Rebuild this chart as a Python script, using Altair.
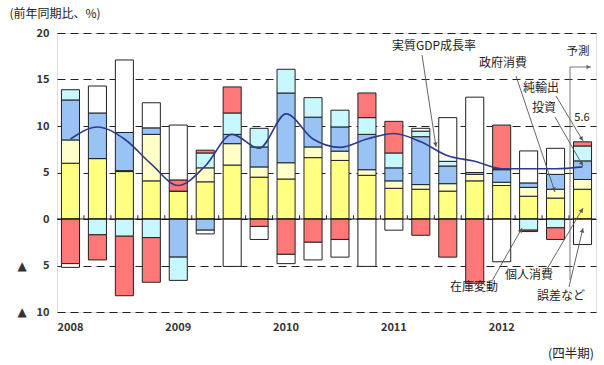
import math
import altair as alt
import pandas as pd

JP = "Noto Sans CJK JP"

quarters = ["2008 Q1", "2008 Q2", "2008 Q3", "2008 Q4",
            "2009 Q1", "2009 Q2", "2009 Q3", "2009 Q4",
            "2010 Q1", "2010 Q2", "2010 Q3", "2010 Q4",
            "2011 Q1", "2011 Q2", "2011 Q3", "2011 Q4",
            "2012 Q1", "2012 Q2", "2012 Q3", "2012 Q4"]

components = ["個人消費", "政府消費", "投資", "在庫変動", "純輸出", "誤差など"]
colors = ["#FFFF82", "#FFFFC8", "#99C2F5", "#C8F8FF", "#FF7878", "#FFFFFF"]

consumption = [6.0, 6.5, 5.1, 4.1, 3.0, 4.0, 5.8, 4.5, 4.3, 6.6,
               6.3, 4.7, 3.3, 3.2, 3.0, 4.1, 3.6, 2.45, 2.25, 3.2]
government = [2.5, 0.0, 0.1, 5.0, 0.0, 1.5, 2.3, 1.1, 1.75, 1.15,
              1.0, 0.6, 0.8, 0.5, 0.8, 0.7, 0.35, 0.95, 0.95, 1.05]
investment = [4.3, 4.9, 4.1, 0.7, -4.1, -1.2, 1.0, 2.15, 7.5, 3.2,
              2.6, 3.8, 1.4, 5.15, 1.9, 0.2, 1.35, 0.48, 1.6, 2.0]
inventory = [1.1, -1.7, -1.85, -2.0, -2.5, 1.6, 2.3, 2.0, 2.55, 2.1,
             1.8, 1.8, 1.6, 0.6, 0.5, 0.0, 0.1, -1.2, -0.95, 1.6]
net_exports = [-4.8, -2.7, -6.4, -4.8, 1.2, 0.3, 2.8, -0.8, -3.8, -2.5,
               -2.2, 2.65, 3.4, -1.75, -4.1, -6.9, 4.7, -0.15, -1.25, 0.45]
errors = [-0.4, 2.9, 7.8, 2.7, 5.9, -0.4, -5.1, -1.4, -1.0, -1.9,
          -1.9, -5.1, -1.2, 0.3, 4.7, 8.1, -4.6, 3.44, 2.8, -2.75]
gdp_growth = [8.6, 9.9, 8.6, 5.9, 3.6, 5.7, 9.1, 7.6, 11.3, 8.6,
              7.7, 8.6, 9.2, 8.3, 6.8, 6.2, 5.4, 5.4, 5.4, 5.6]

y_ticks = [-10, -5, 0, 5, 10, 15, 20]
neg_ticks = [-5, -10]

series = [consumption, government, investment, inventory, net_exports, errors]
rows = []
for ci, (name, vals) in enumerate(zip(components, series)):
    for q, v in zip(quarters, vals):
        rows.append({"q": q, "comp": name, "value": v, "ord": ci})
df = pd.DataFrame(rows)
gdf = pd.DataFrame({"q": quarters, "gdp": gdp_growth})

W, H = 539, 279
LEFT, TOP = 57, 33

xscale = alt.Scale(paddingInner=0.33, paddingOuter=0.165)
yscale = alt.Scale(domain=[-10, 20], nice=False)

bars = alt.Chart(df).mark_bar(stroke="#222", strokeWidth=1).encode(
    x=alt.X("q:N", sort=quarters, scale=xscale, title=None,
            axis=alt.Axis(labelExpr="substring(datum.label, 5) == 'Q1' ? substring(datum.label, 0, 4) : ''",
                          labelAngle=0, ticks=False, domain=False, labelPadding=9,
                          labelFont=JP, labelFontSize=11, labelFontWeight="bold",
                          labelColor="#333", labelFlush=False)),
    y=alt.Y("value:Q", stack="zero", scale=yscale, title=None,
            axis=alt.Axis(values=y_ticks, ticks=False, domain=False,
                          labelPadding=8, labelFont=JP, labelFontSize=11, labelFontWeight="bold",
                          labelColor="#333",
                          labelExpr="datum.value < 0 ? format(-datum.value, 'd') : datum.label",
                          grid=True, gridDash=[8, 5], gridColor="#222", gridWidth=1.1)),
    color=alt.Color("comp:N", scale=alt.Scale(domain=components, range=colors), legend=None),
    order=alt.Order("ord:Q"),
)

tri = alt.Chart(pd.DataFrame({"v": neg_ticks})).mark_text(
    text="▲", font="DejaVu Sans", fontSize=12, color="#333", baseline="middle").encode(
    y=alt.Y("v:Q", scale=yscale), x=alt.value(22 - LEFT))

zero = alt.Chart(pd.DataFrame({"v": [0]})).mark_rule(color="#111", strokeWidth=1.2).encode(
    y=alt.Y("v:Q", scale=yscale))

ticks = alt.Chart(pd.DataFrame({"q": quarters[:-1]})).mark_rule(
    color="#222", strokeWidth=1, xOffset=W / 20 / 2).encode(
    x=alt.X("q:N", sort=quarters), y=alt.datum(0), y2=alt.datum(0.4))

line = alt.Chart(gdf).mark_line(color="#2E3A8C", strokeWidth=1.6, interpolate="monotone").encode(
    x=alt.X("q:N", sort=quarters), y=alt.Y("gdp:Q", scale=yscale))

layers = [bars, zero, ticks, line, tri]


def text(label, x, y, size=12, align="center", weight="normal"):
    return alt.Chart(pd.DataFrame({"t": [label]})).mark_text(
        font=JP, fontSize=size, color="#222", align=align, baseline="middle", fontWeight=weight
    ).encode(text="t:N", x=alt.value(x - LEFT), y=alt.value(y - TOP))


def arrow(x1, y1, x2, y2, color="#555"):
    r = alt.Chart(pd.DataFrame({"a": [0]})).mark_rule(color=color, strokeWidth=0.9).encode(
        x=alt.value(x1 - LEFT), x2=alt.value(x2 - LEFT), y=alt.value(y1 - TOP), y2=alt.value(y2 - TOP))
    dx, dy = x2 - x1, y2 - y1
    L = math.hypot(dx, dy)
    ang = math.degrees(math.atan2(dx, -dy)) % 360
    cx, cy = x2 - dx / L * 2.5, y2 - dy / L * 2.5
    h = alt.Chart(pd.DataFrame({"a": [0]})).mark_point(
        shape="triangle-up", filled=True, size=22, color=color, opacity=1, angle=ang).encode(
        x=alt.value(cx - LEFT), y=alt.value(cy - TOP))
    return [r, h]


layers += [
    text("(前年同期比、%)", 55, 14, size=12),
    text("(四半期)", 571, 354, size=12.5),
    text("実質GDP成長率", 434, 46, size=12),
    text("政府消費", 503, 63, size=12),
    text("純輸出", 541, 88, size=12),
    text("投資", 544, 108, size=12),
    text("5.6", 582, 118, size=11),
    text("予測", 578, 52, size=11.5),
    text("在庫変動", 474, 287, size=12),
    text("個人消費", 529, 275, size=12),
    text("誤差など", 561, 296, size=12),
]
layers += arrow(422, 55, 436, 147)
layers += arrow(516, 76, 555, 192)
layers += arrow(556, 96, 583, 141)
layers += arrow(555, 117, 583, 166)
layers += arrow(492, 281, 522, 228)
layers += arrow(547, 269, 583, 208)
layers += arrow(569, 287, 583, 228)
layers += arrow(570, 67, 591, 67, color="#666")
layers.append(
    alt.Chart(pd.DataFrame({"a": [0]})).mark_rule(color="#666", strokeWidth=0.9).encode(
        x=alt.value(570 - LEFT), y=alt.value(67 - TOP), y2=alt.value(280 - TOP)))

chart = alt.layer(*layers).properties(
    width=W, height=H,
    autosize=alt.AutoSizeParams(type="none"),
    padding={"left": LEFT, "top": TOP, "right": 604 - LEFT - W, "bottom": 365 - TOP - H},
).configure_view(stroke="#222", strokeWidth=1.2).configure(background="white")

chart.save("out.html", embed_options={"renderer": "svg", "actions": False})
